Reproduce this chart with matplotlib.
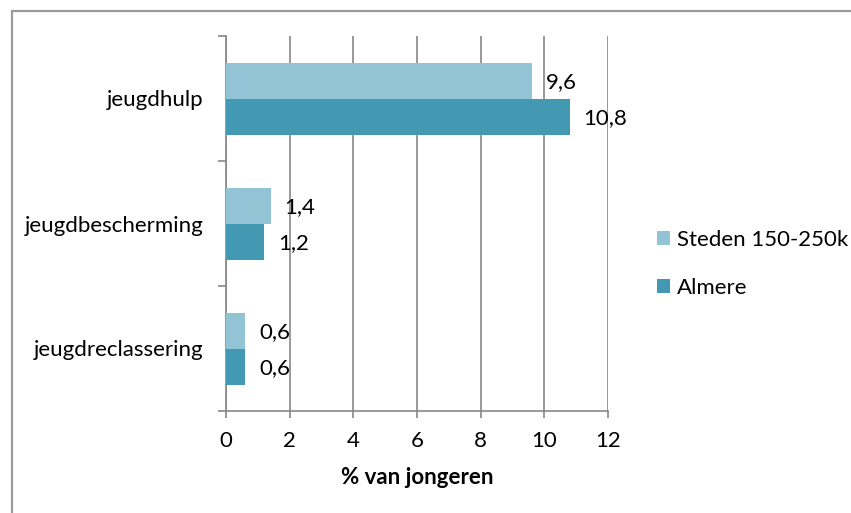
import matplotlib
matplotlib.use("Agg")
import matplotlib.pyplot as plt
from matplotlib.patches import Rectangle
import numpy as np

categories = ["jeugdhulp", "jeugdbescherming", "jeugdreclassering"]
series_names = ["Steden 150-250k", "Almere"]
steden = [9.6, 1.4, 0.6]
almere = [10.8, 1.2, 0.6]
x_ticks = [0, 2, 4, 6, 8, 10, 12]
x_label = "% van jongeren"

light = "#93C4D5"
dark = "#4399B1"
grey = "#878787"

plt.rcParams["font.family"] = ["Lato", "DejaVu Sans"]
fs = 16

W, H = 851, 513
fig = plt.figure(figsize=(W / 100, H / 100), dpi=100)

# outer chart frame (runs off the right and bottom edges)
fig.patches.append(Rectangle((12 / W, -0.2), 2.0, 1 - 11 / H + 0.2,
                             transform=fig.transFigure, fill=False,
                             edgecolor="#9a9a9a", linewidth=1.6, zorder=0))

ax = fig.add_axes([226 / W, 1 - 411 / H, (608 - 226) / W, (411 - 36) / H])

pos = np.arange(len(categories))
h = 0.288
b1 = ax.barh(pos - h / 2, steden, height=h, color=light, zorder=3,
             label=series_names[0])
b2 = ax.barh(pos + h / 2, almere, height=h, color=dark, zorder=3,
             label=series_names[1])

for bars, vals in ((b1, steden), (b2, almere)):
    for rect, v in zip(bars, vals):
        ax.annotate(f"{v:.1f}".replace(".", ","),
                    xy=(v, rect.get_y() + rect.get_height() / 2),
                    xytext=(10, -1), textcoords="offset points",
                    ha="left", va="center", fontsize=fs, color="black",
                    zorder=4)

ax.set_xlim(0, 12)
ax.set_ylim(len(categories) - 0.5, -0.5)

ax.set_xticks(x_ticks)
ax.set_xticklabels([str(t) for t in x_ticks], fontsize=fs)
ax.tick_params(axis="x", length=5, width=1.2, color=grey, pad=9.5)

# category labels at the centres, tick marks on the boundaries
ax.set_yticks(pos)
ax.set_yticklabels(categories, fontsize=fs)
ax.tick_params(axis="y", which="major", length=0, pad=16)
ax.set_yticks(np.arange(len(categories) + 1) - 0.5, minor=True)
ax.tick_params(axis="y", which="minor", length=6, width=1.2, color=grey,
               direction="out")

ax.xaxis.grid(True, color=grey, linewidth=1.2, zorder=0)
ax.set_axisbelow(True)
for s in ("top", "right"):
    ax.spines[s].set_visible(False)
for s in ("left", "bottom"):
    ax.spines[s].set_color(grey)
    ax.spines[s].set_linewidth(1.2)

ax.set_xlabel(x_label, fontsize=fs, fontweight="bold")
ax.xaxis.set_label_coords(0.5, -(478 - 411) / (411 - 36))
ax.xaxis.label.set_verticalalignment("center")

fig.legend(handles=[b1, b2], labels=series_names, loc="center left",
           bbox_to_anchor=(657 / W, 1 - 264 / H), frameon=False,
           fontsize=fs, handlelength=0.6, handleheight=0.6,
           handletextpad=0.3, labelspacing=1.25, borderpad=0,
           borderaxespad=0)

fig.savefig("out.png", dpi=100)
